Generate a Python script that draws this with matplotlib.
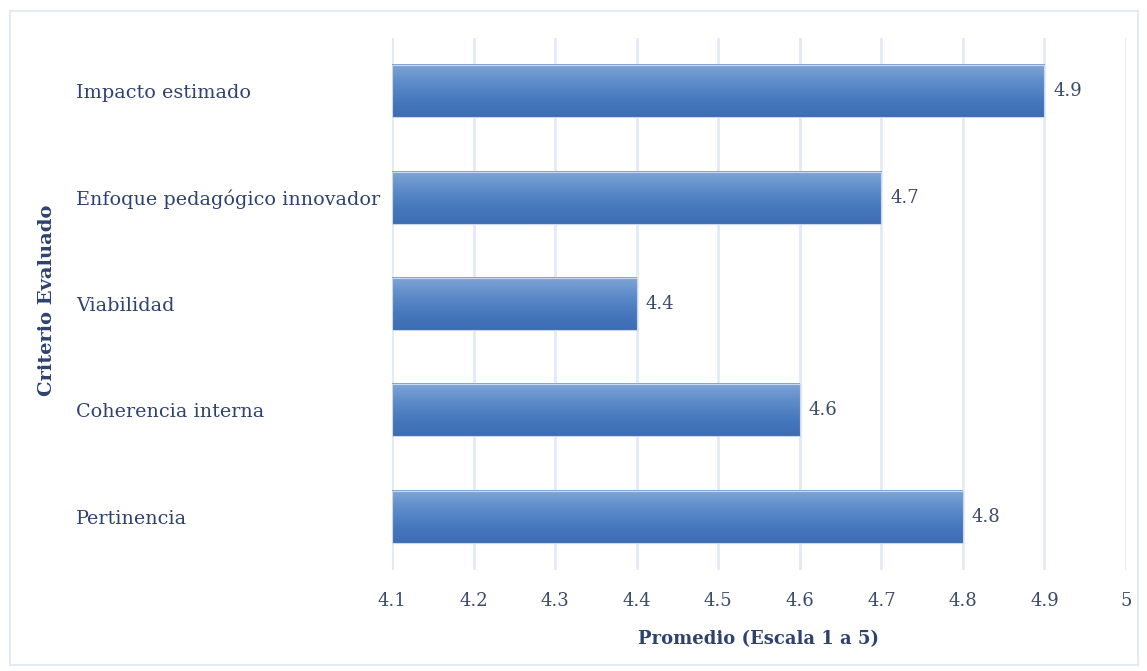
import numpy as np
import matplotlib.pyplot as plt
from matplotlib.patches import Rectangle

criterios = ["Pertinencia", "Coherencia interna", "Viabilidad",
             "Enfoque pedagógico innovador", "Impacto estimado"]
promedios = [4.8, 4.6, 4.4, 4.7, 4.9]
xticks = [4.1, 4.2, 4.3, 4.4, 4.5, 4.6, 4.7, 4.8, 4.9, 5.0]
xtick_labels = ["4.1", "4.2", "4.3", "4.4", "4.5", "4.6", "4.7", "4.8", "4.9", "5"]

plt.rcParams["font.family"] = ["DejaVu Serif"]
text_col = "#2e4270"

fig = plt.figure(figsize=(11.47, 6.71), dpi=100)
ax = fig.add_axes([392 / 1147, 1 - 570 / 671, (1126 - 392) / 1147, (570 - 38) / 671])

# frame around the chart
fig.patches.append(Rectangle((10 / 1147, 6 / 671), 1128 / 1147, 654 / 671,
                             transform=fig.transFigure, fill=False,
                             edgecolor="#e3eaf3", linewidth=1.5))

left = 4.1
bar_h = 0.49
grad = np.linspace(0, 1, 256).reshape(-1, 1)
cmap = plt.matplotlib.colors.LinearSegmentedColormap.from_list(
    "azul", ["#80a5d6", "#5f8dca", "#4779be", "#3d6cb2"])

for i, v in enumerate(promedios):
    ax.imshow(grad, cmap=cmap, aspect="auto", origin="lower",
              extent=(left, v, i + bar_h / 2, i - bar_h / 2), zorder=2)
    ax.add_patch(Rectangle((left, i - bar_h / 2), v - left, bar_h, fill=False,
                           edgecolor="#c9d8ee", linewidth=0.8, zorder=3))
    ax.text(v + 0.011, i, f"{v}", va="center", ha="left",
            fontsize=13, color="#3a4a6a")

ax.set_xlim(4.1, 5.0)
ax.set_ylim(-0.5, 4.5)
ax.set_xticks(xticks)
ax.set_xticklabels(xtick_labels, fontsize=13, color="#3a4a6a")
ax.set_yticks(range(len(criterios)))
ax.set_yticklabels(criterios, fontsize=13.8, color=text_col, ha="left")
ax.tick_params(axis="y", length=0, pad=(392 - 76) * 0.72)
ax.tick_params(axis="x", length=0, pad=16)
ax.grid(axis="x", color="#e2eaf7", linewidth=2, zorder=0)
ax.set_axisbelow(True)
for s in ax.spines.values():
    s.set_visible(False)

ax.set_xlabel("Promedio (Escala 1 a 5)", fontsize=13, fontweight="bold",
              color=text_col, labelpad=14)
fig.text(47 / 1147, 1 - 300 / 671, "Criterio Evaluado", rotation=90,
         fontsize=14, fontweight="bold", color=text_col, va="center", ha="center")

fig.savefig("out.png", dpi=100)
